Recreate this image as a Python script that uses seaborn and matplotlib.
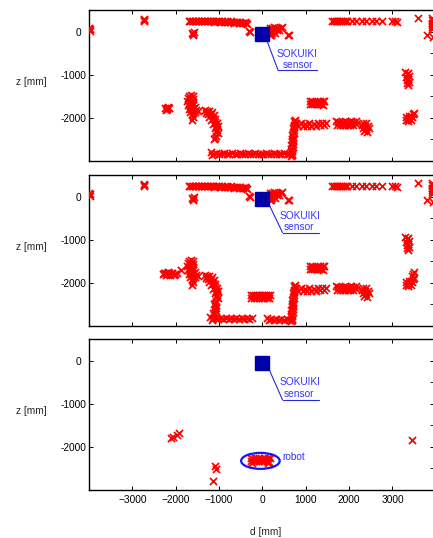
import pandas as pd
import seaborn as sns
import matplotlib.pyplot as plt
from matplotlib.patches import Ellipse

# ---- scan points (d, z in mm) ----
edge_left = [(-3990, 90), (-3975, 50), (-3985, 20)]
spot_a = [(-2740, 290), (-2720, 250), (-2730, 270)]
top_left = [(-1700, 250), (-1665, 245), (-1630, 255), (-1595, 245), (-1560, 250), (-1525, 245),
            (-1490, 255), (-1455, 245), (-1420, 250), (-1385, 240), (-1350, 250), (-1315, 245),
            (-1280, 240), (-1245, 250), (-1210, 235), (-1175, 245), (-1140, 240), (-1105, 230),
            (-1070, 245), (-1035, 235), (-1000, 240), (-965, 225), (-930, 240), (-895, 230),
            (-860, 220), (-825, 240), (-790, 225), (-755, 215), (-720, 235), (-685, 220),
            (-650, 210), (-615, 230), (-580, 215), (-545, 200), (-510, 225), (-475, 205),
            (-440, 190), (-405, 215), (-370, 195), (-360, 175)]
spot_b = [(-1620, -30), (-1590, -70), (-1600, -50), (-1580, -20)]
spot_c = [(-310, 20), (-290, -5)]
wedge = [(170, 90), (220, 90), (270, 95), (320, 90), (370, 85), (420, 90), (460, 95),
         (170, 30), (220, 35), (270, 30), (330, 25), (390, 30),
         (170, -30), (220, -35), (280, -30), (170, -90), (210, -80)]
spot_d = [(600, -90), (615, -70)]
sparse_row = [(1610, 245), (1650, 235), (1690, 245), (1730, 240), (1770, 235), (1810, 245),
              (1850, 240), (1900, 235), (1950, 240), (2060, 240), (2170, 235), (2290, 240),
              (2400, 240), (2520, 235), (2630, 240), (2750, 240)]
spot_e = [(2990, 240), (3100, 230), (3050, 235)]
spot_f = [(3590, 315)]
edge_right = [(3920, 310), (3925, 260), (3915, 210), (3925, 160), (3920, 110), (3910, 60),
              (3800, -80), (3940, -120)]

spot_g = [(-2240, -1760), (-2200, -1800), (-2160, -1770), (-2220, -1810), (-2180, -1740), (-2200, -1780)]
cluster_h = [(-1690, -1490), (-1640, -1480), (-1600, -1500), (-1710, -1550), (-1660, -1560),
             (-1610, -1570), (-1730, -1620), (-1680, -1640), (-1630, -1630), (-1590, -1650),
             (-1710, -1700), (-1660, -1720), (-1610, -1710), (-1560, -1740), (-1690, -1790),
             (-1640, -1800), (-1590, -1790), (-1530, -1820), (-1490, -1850), (-1670, -1870),
             (-1610, -1880), (-1550, -1870), (-1630, -1940), (-1590, -1990), (-1620, -2040)]
diag_i = [(-1320, -1820), (-1270, -1830), (-1220, -1840), (-1170, -1860), (-1300, -1880),
          (-1250, -1900), (-1180, -1920), (-1120, -1940), (-1230, -1970), (-1150, -2000),
          (-1090, -2020), (-1180, -2060), (-1100, -2090), (-1050, -2110), (-1130, -2150),
          (-1060, -2180), (-1020, -2200), (-1100, -2240), (-1040, -2270), (-1080, -2320),
          (-1030, -2360), (-1070, -2410), (-1100, -2460), (-1120, -2500)]
vertical_j = [(650, -2880), (680, -2840), (650, -2800), (690, -2760), (660, -2720), (700, -2680),
              (670, -2640), (700, -2600), (675, -2560), (705, -2520), (685, -2480), (715, -2440),
              (690, -2400), (720, -2360), (700, -2320), (730, -2280), (710, -2240), (740, -2200),
              (720, -2160), (750, -2120), (730, -2080), (760, -2060)]
ledge_k = [(780, -2130), (830, -2200), (880, -2130), (930, -2200), (980, -2140), (1030, -2190),
           (1080, -2130), (1130, -2190), (1180, -2140), (1230, -2180), (1280, -2130),
           (1330, -2170), (1380, -2120), (1420, -2160), (1460, -2130)]
band_l = [(1090, -1610), (1140, -1620), (1190, -1630), (1240, -1625), (1290, -1630), (1340, -1620),
          (1390, -1615), (1420, -1600), (1100, -1690), (1150, -1680), (1200, -1680), (1250, -1690),
          (1300, -1680), (1350, -1685), (1410, -1700)]
band_m = [(1700, -2080), (1750, -2090), (1800, -2085), (1850, -2090), (1900, -2080), (1950, -2090),
          (2000, -2085), (2050, -2080), (2100, -2090), (2150, -2080), (1730, -2160), (1790, -2170),
          (1850, -2160), (1910, -2170), (1970, -2160), (2030, -2170), (2090, -2160), (2160, -2150)]
cluster_n = [(2330, -2110), (2400, -2130), (2300, -2170), (2370, -2190), (2440, -2180),
             (2330, -2240), (2400, -2250), (2460, -2230), (2350, -2300), (2420, -2320)]
cluster_o = [(3310, -2060), (3350, -2030), (3390, -2000), (3430, -1960), (3470, -1920),
             (3500, -1880), (3360, -2080), (3420, -2040), (3380, -1950), (3450, -1990), (3320, -1990)]
cluster_p = [(3300, -930), (3360, -950), (3330, -990), (3380, -1030), (3320, -1050),
             (3370, -1090), (3330, -1130), (3380, -1160), (3340, -1200), (3360, -1240)]

bottom_long = [(-1180, -2780), (-1160, -2870), (-1120, -2830), (-1060, -2820), (-1000, -2840),
               (-940, -2830), (-880, -2815), (-820, -2840), (-760, -2830), (-700, -2820),
               (-640, -2845), (-580, -2830), (-520, -2820), (-460, -2840), (-400, -2830),
               (-340, -2825), (-280, -2840), (-220, -2830), (-160, -2820), (-100, -2845),
               (-40, -2830), (20, -2835), (80, -2820), (140, -2840), (200, -2830), (260, -2825),
               (320, -2845), (380, -2830), (440, -2835), (500, -2820), (560, -2845), (620, -2830),
               (680, -2850)]

# extra points that only the second scan has
spot_g_ext = [(-2300, -1790), (-2270, -1760), (-2130, -1810), (-2090, -1780), (-2050, -1820),
              (-2010, -1790), (-1960, -1760), (-1880, -1710)]
diag_ext = [(-1090, -2540), (-1070, -2580), (-1100, -2620), (-1060, -2660), (-1090, -2700),
            (-1120, -2740), (-1150, -2700)]
band_w = [(-270, -2280), (-220, -2290), (-170, -2280), (-120, -2290), (-70, -2280), (-20, -2290),
          (30, -2280), (80, -2290), (130, -2280), (170, -2270), (-260, -2350), (-200, -2340),
          (-140, -2350), (-80, -2340), (-20, -2350), (40, -2340), (100, -2350), (160, -2360)]
cluster_o_ext = [(3450, -1830), (3480, -1790), (3510, -1750)]
bottom_left = [(-1200, -2780), (-1170, -2850), (-1130, -2810), (-1080, -2820), (-1020, -2830),
               (-960, -2815), (-900, -2830), (-840, -2820), (-780, -2835), (-720, -2815),
               (-660, -2830), (-600, -2820), (-540, -2835), (-480, -2815), (-420, -2830),
               (-360, -2820), (-300, -2830), (-250, -2815)]
bottom_right = [(110, -2820), (150, -2860), (200, -2840), (260, -2850), (320, -2835), (380, -2855),
                (440, -2840), (500, -2850), (560, -2835), (620, -2855), (680, -2850)]

# difference scan (third panel)
stray_pts = [(-2100, -1800), (-2060, -1770), (-1960, -1730), (-1920, -1690), (-1100, -2450),
             (-1080, -2510), (-1150, -2780), (3450, -1850)]
robot_pts = [(-270, -2260), (-220, -2270), (-170, -2260), (-120, -2270), (-70, -2260), (-20, -2270),
             (30, -2260), (80, -2270), (130, -2260), (170, -2255), (-260, -2330), (-200, -2320),
             (-140, -2330), (-80, -2320), (-20, -2330), (40, -2320), (100, -2330), (160, -2340),
             (-240, -2370), (120, -2370)]

common = (edge_left + spot_a + top_left + spot_b + spot_c + wedge + spot_d + sparse_row + spot_e
          + spot_f + edge_right + spot_g + cluster_h + diag_i + vertical_j + ledge_k + band_l
          + band_m + cluster_n + cluster_o + cluster_p)
scan1 = common + bottom_long
scan2 = common + spot_g_ext + diag_ext + band_w + cluster_o_ext + bottom_left + bottom_right
scan3 = stray_pts + robot_pts

sensor_pos = (0, -50)
x_ticks = [-3000, -2000, -1000, 0, 1000, 2000, 3000]
y_ticks = [-2000, -1000, 0]
y_tick_labels = ['-2000', '-1000', '0  ']

# label positions per panel: (SOKUIKI xy, sensor xy, underline x0,x1,z, leader start, leader end)
labels = [
    dict(t1=(334, -590), t2=(472, -845), ul=(357, 1270, -900), ld=((97, -190), (364, -900))),
    dict(t1=(387, -513), t2=(495, -780), ul=(465, 1310, -835), ld=((157, -190), (465, -835))),
    dict(t1=(387, -575), t2=(495, -835), ul=(465, 1310, -912), ld=((157, -207), (465, -912))),
]

sns.set_theme(style='white')
plt.rcParams['font.family'] = ['Liberation Sans', 'DejaVu Sans']
fs = 7.3
txt_blue = '#3535ff'

W, H = 433, 538
fig = plt.figure(figsize=(W / 100, H / 100), dpi=100)
panels = [(10, 161), (175, 326), (339, 490)]
scans = [scan1, scan2, scan3]

for i, ((top, bot), scan) in enumerate(zip(panels, scans)):
    ax = fig.add_axes([89 / W, 1 - bot / H, 345 / W, (bot - top) / H])
    df = pd.DataFrame(scan, columns=['d', 'z'])
    sns.scatterplot(data=df, x='d', y='z', marker='x', color='red', s=26, linewidth=1.25,
                    ax=ax, zorder=3)
    ax.plot(*sensor_pos, marker='s', ms=9.4, color='#0000aa', zorder=5)

    lb = labels[i]
    ax.text(*lb['t1'], 'SOKUIKI', color=txt_blue, fontsize=fs, va='baseline', ha='left')
    ax.text(*lb['t2'], 'sensor', color=txt_blue, fontsize=fs, va='baseline', ha='left')
    x0, x1, zu = lb['ul']
    ax.plot([x0, x1], [zu, zu], color='#2828e0', lw=0.8)
    (a0, b0), (a1, b1) = lb['ld']
    ax.plot([a0, a1], [b0, b1], color='#2828e0', lw=0.8)

    if i == 2:
        ax.add_patch(Ellipse((-45, -2325), 890, 370, fill=False, edgecolor='#1414ff', lw=1.6, zorder=4))
        ax.text(465, -2300, 'robot', color=txt_blue, fontsize=fs, va='baseline', ha='left')

    ax.set_xlim(-4000, 3960)
    ax.set_ylim(-3000, 500)
    ax.set_xticks(x_ticks)
    ax.set_yticks(y_ticks)
    ax.set_yticklabels(y_tick_labels)
    ax.set_yticks([-2500, -1500, -500], minor=True)
    ax.tick_params(which='major', direction='in', length=3, width=0.7, top=True, right=True,
                   bottom=True, left=True, labelsize=fs, pad=1.5, colors='black')
    ax.tick_params(which='minor', axis='y', direction='in', length=3, width=0.7, left=False, right=True)
    ax.tick_params(axis='x', pad=3.5)
    if i < 2:
        ax.set_xticklabels([])
    ax.set_xlabel('')
    ax.set_ylabel('')
    for sp in ax.spines.values():
        sp.set_color('black')
        sp.set_linewidth(1.0)
    ax.text(-0.1226, 0.523, 'z [mm]', transform=ax.transAxes, ha='right', va='center', fontsize=fs)

fig.text(265.5 / W, 1 - 532 / H, 'd [mm]', ha='center', va='center', fontsize=fs)

plt.savefig('out.png', dpi=100)
